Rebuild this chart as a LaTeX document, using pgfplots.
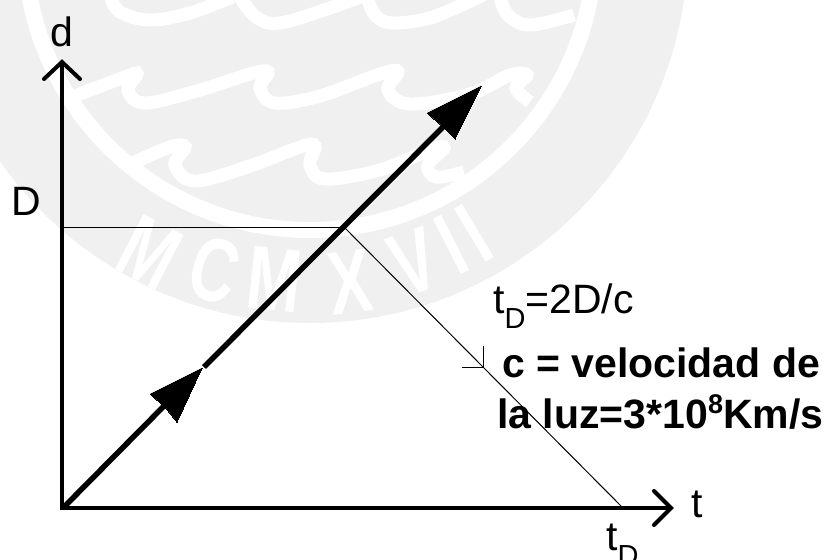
\documentclass[border=0pt]{standalone}
\usepackage{fontspec}
\setmainfont{Liberation Sans}
\usepackage{pgfplots}
\pgfplotsset{compat=1.18}
\definecolor{sealgray}{HTML}{F0F0F0}
\newcommand{\lab}{\fontsize{41}{41}\selectfont}
\newcommand{\subs}[1]{\raisebox{-15pt}{\fontsize{29}{29}\selectfont #1}}
\newcommand{\sealtxt}[1]{\fontsize{90}{90}\selectfont\bfseries #1}

\begin{document}
\begin{tikzpicture}
\path[use as bounding box,clip] (0,0) rectangle (828pt,560pt);
\begin{axis}[
  at={(0,0)}, anchor=south west,
  scale only axis, width=828pt, height=560pt,
  xmin=0, xmax=828, ymin=0, ymax=560, y dir=reverse,
  hide axis, clip=false,
]
% watermark seal behind the plot
\fill[sealgray] (axis cs:310,-55) circle[radius=378pt];
\draw[white,line width=16pt] (axis cs:310,-55) circle[radius=285pt];
\addplot[white,line width=13pt,smooth,tension=0.6] coordinates {
  (72,97) (125,77) (137,74) (128,90) (145,103) (200,90) (250,74) (268,72) (260,88)
  (275,103) (320,96) (380,74) (398,72) (388,90) (410,104) (470,94) (510,75) (527,75) (516,88) (530,102)
};
\addplot[white,line width=13pt,smooth,tension=0.6] coordinates {
  (133,163) (170,147) (185,147) (175,165) (195,181) (250,166) (300,147) (315,146) (310,165)
  (325,179) (380,170) (430,150) (444,148) (428,165) (436,177) (464,172)
};
\addplot[white,line width=13pt,smooth,tension=0.6] coordinates {
  (110,-5) (120,12) (150,20) (190,13) (232,-3)
};
\addplot[white,line width=13pt,smooth,tension=0.6] coordinates {
  (240,-3) (256,17) (280,23) (333,7) (365,-5)
};
\addplot[white,line width=13pt,smooth,tension=0.6] coordinates {
  (368,0) (376,16) (393,23) (433,17) (483,-5)
};
\addplot[white,line width=13pt,smooth,tension=0.6] coordinates {
  (500,-3) (508,15) (530,25) (574,15)
};
\node[white,rotate=-27.5,xscale=0.72] at (axis cs:150,252) {\sealtxt{M}};
\node[white,rotate=-16,xscale=0.72] at (axis cs:215,270) {\sealtxt{C}};
\node[white,rotate=-6,xscale=0.72] at (axis cs:275,280) {\sealtxt{M}};
\node[white,rotate=7,xscale=0.72] at (axis cs:350,282) {\sealtxt{X}};
\node[white,rotate=19,xscale=0.72] at (axis cs:414,262) {\sealtxt{V}};
\node[white,rotate=27,xscale=0.72] at (axis cs:451,245) {\sealtxt{I}};
\node[white,rotate=31,xscale=0.72] at (axis cs:474,233) {\sealtxt{I}};

% axes
\addplot[black,line width=4pt] coordinates {(62,510) (62,62)};
\addplot[black,line width=4pt,line cap=round] coordinates {(44,79) (62,62) (80,79)};
\addplot[black,line width=4pt] coordinates {(61,508) (670,508)};
\addplot[black,line width=4pt,line cap=round] coordinates {(654,491) (671,508) (654,525)};

% thin construction lines
\addplot[black,line width=1pt] coordinates {(63,227) (340,227)};
\addplot[black,line width=1pt] coordinates {(345,228) (622,507)};
\addplot[black,line width=1pt] coordinates {(462,367) (483,367) (483,346)};

% thick ray with its two heads
\addplot[black,line width=5.5pt] coordinates {(63,508) (165,405)};
\addplot[black,line width=5.5pt] coordinates {(204,367) (445,125)};
\addplot[black,fill=black,line width=0pt] coordinates {(202,368) (150,394) (165,407) (177,422) (202,368)};
\addplot[black,fill=black,line width=0pt] coordinates {(481,86) (427,113) (441,125) (455,139) (481,86)};

% labels
\node[anchor=base] at (axis cs:62,46) {\lab d};
\node[anchor=base west,inner sep=0pt] at (axis cs:11,215) {\lab D};
\node[anchor=base west,inner sep=0pt] at (axis cs:691,517) {\lab t};
\node[anchor=base west,inner sep=0pt] at (axis cs:606,550) {\lab t\subs{D}};
\node[anchor=base west,inner sep=0pt] at (axis cs:493,313) {\lab t\subs{D}=2D/c};
\node[anchor=base west,inner sep=0pt] at (axis cs:502,377) {\lab\bfseries c = velocidad de};
\node[anchor=base west,inner sep=0pt] at (axis cs:497,428) {\lab\bfseries la luz=3*10\raisebox{15pt}{\fontsize{27}{27}\selectfont 8}Km/s};
\end{axis}
\end{tikzpicture}
\end{document}
